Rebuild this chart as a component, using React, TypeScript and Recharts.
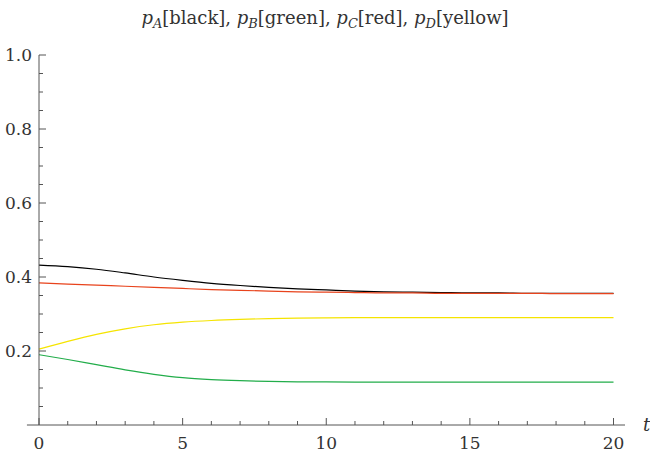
import React from 'react';
import { LineChart, Line, XAxis, YAxis, ReferenceLine } from 'recharts';

// Time grid and the four probability curves
const times = [0, 1, 2, 3, 4, 5, 6, 7, 8, 9, 10, 11, 12, 13, 14, 15, 16, 17, 18, 19, 20];
const pA = [0.432, 0.428, 0.421, 0.411, 0.4, 0.391, 0.383, 0.377, 0.372, 0.368, 0.365, 0.362, 0.36, 0.359, 0.358, 0.357, 0.357, 0.356, 0.356, 0.356, 0.356];
const pB = [0.19, 0.177, 0.163, 0.149, 0.137, 0.128, 0.1228, 0.1197, 0.1178, 0.1168, 0.1163, 0.116, 0.1158, 0.1157, 0.1157, 0.1157, 0.1157, 0.1157, 0.1157, 0.1157, 0.1157];
const pC = [0.384, 0.381, 0.378, 0.375, 0.372, 0.369, 0.366, 0.364, 0.362, 0.36, 0.359, 0.358, 0.357, 0.357, 0.356, 0.356, 0.356, 0.356, 0.355, 0.355, 0.355];
const pD = [0.205, 0.226, 0.245, 0.26, 0.271, 0.278, 0.2825, 0.2855, 0.2875, 0.2888, 0.2895, 0.29, 0.2902, 0.2903, 0.2903, 0.2903, 0.2903, 0.2903, 0.2903, 0.2903, 0.2903];

// Axis ticks: every value gets a tick mark, only the major ones get a label
const xTicks = [0, 1, 2, 3, 4, 5, 6, 7, 8, 9, 10, 11, 12, 13, 14, 15, 16, 17, 18, 19, 20];
const xMajor = [0, 5, 10, 15, 20];
const yTicks = [0.05, 0.1, 0.15, 0.2, 0.25, 0.3, 0.35, 0.4, 0.45, 0.5, 0.55, 0.6, 0.65, 0.7, 0.75, 0.8, 0.85, 0.9, 0.95, 1.0];
const yMajor = ['0.2', '0.4', '0.6', '0.8', '1.0'];

const rows = times.map((t, i) => ({ t, pA: pA[i], pB: pB[i], pC: pC[i], pD: pD[i] }));

const AXIS = '#555';
const TEXT = '#333';
const FONT = "'DejaVu Serif', 'Liberation Serif', serif";

const XTick = (props: any) => {
  const { x, y, payload } = props;
  const major = xMajor.includes(payload.value);
  return (
    <g>
      <line x1={x} x2={x} y1={y} y2={y - (major ? 7 : 4)} stroke={AXIS} strokeWidth={1} />
      {major && (
        <text x={x} y={y + 24} textAnchor="middle" style={{ fontFamily: FONT }} fontSize={17} fill={TEXT}>
          {payload.value}
        </text>
      )}
    </g>
  );
};

const YTick = (props: any) => {
  const { x, y, payload } = props;
  const label = Number(payload.value).toFixed(1);
  const major = yMajor.includes(label) && Math.abs(payload.value * 10 - Math.round(payload.value * 10)) < 1e-6;
  return (
    <g>
      <line x1={x} x2={x + (major ? 7 : 4)} y1={y} y2={y} stroke={AXIS} strokeWidth={1} />
      {major && (
        <text x={x - 7} y={y + 6} textAnchor="end" style={{ fontFamily: FONT }} fontSize={17} fill={TEXT}>
          {label}
        </text>
      )}
    </g>
  );
};

const TLabel = (props: any) => {
  const vb = props.viewBox;
  return (
    <text x={vb.x + vb.width + 18} y={vb.y + 6} style={{ fontFamily: FONT, fontStyle: 'italic' }} fontSize={18} fill={TEXT}>
      t
    </text>
  );
};

const sub: React.CSSProperties = { fontSize: '0.72em', verticalAlign: '-0.28em', lineHeight: 0 };

export default function App() {
  return (
    <div style={{ position: 'absolute', left: 0, top: 0, width: 650, height: 456, background: '#fff' }}>
      <div
        style={{
          position: 'absolute',
          left: 0,
          top: 6,
          width: 650,
          textAlign: 'center',
          fontFamily: FONT,
          fontSize: 18,
          lineHeight: '24px',
          color: TEXT,
        }}
      >
        <i>p</i><i style={sub}>A</i>[black], <i>p</i><i style={sub}>B</i>[green], <i>p</i><i style={sub}>C</i>[red], <i>p</i><i style={sub}>D</i>[yellow]
      </div>
      <LineChart width={650} height={456} data={rows} margin={{ top: 55, right: 25, bottom: 0, left: 0 }}>
        <XAxis
          dataKey="t"
          type="number"
          domain={[0, 20.4]}
          ticks={xTicks}
          interval={0}
          tickSize={0}
          tickMargin={0}
          tickLine={false}
          tick={<XTick />}
          height={31}
          axisLine={{ stroke: AXIS, strokeWidth: 1 }}
          label={<TLabel />}
        />
        <YAxis
          type="number"
          domain={[0, 1]}
          ticks={yTicks}
          interval={0}
          tickSize={0}
          tickMargin={0}
          tickLine={false}
          tick={<YTick />}
          width={39}
          axisLine={{ stroke: AXIS, strokeWidth: 1 }}
        />
        <ReferenceLine
          segment={[{ x: -0.42, y: 0 }, { x: 0, y: 0 }]}
          stroke={AXIS}
          strokeWidth={1}
          ifOverflow="visible"
        />
        <Line type="monotone" dataKey="pA" stroke="#000000" strokeWidth={1.2} dot={false} isAnimationActive={false} />
        <Line type="monotone" dataKey="pB" stroke="#22ad4a" strokeWidth={1.2} dot={false} isAnimationActive={false} />
        <Line type="monotone" dataKey="pD" stroke="#f5e400" strokeWidth={1.2} dot={false} isAnimationActive={false} />
        <Line type="monotone" dataKey="pC" stroke="#e8431c" strokeWidth={1.2} dot={false} isAnimationActive={false} />
      </LineChart>
    </div>
  );
}
